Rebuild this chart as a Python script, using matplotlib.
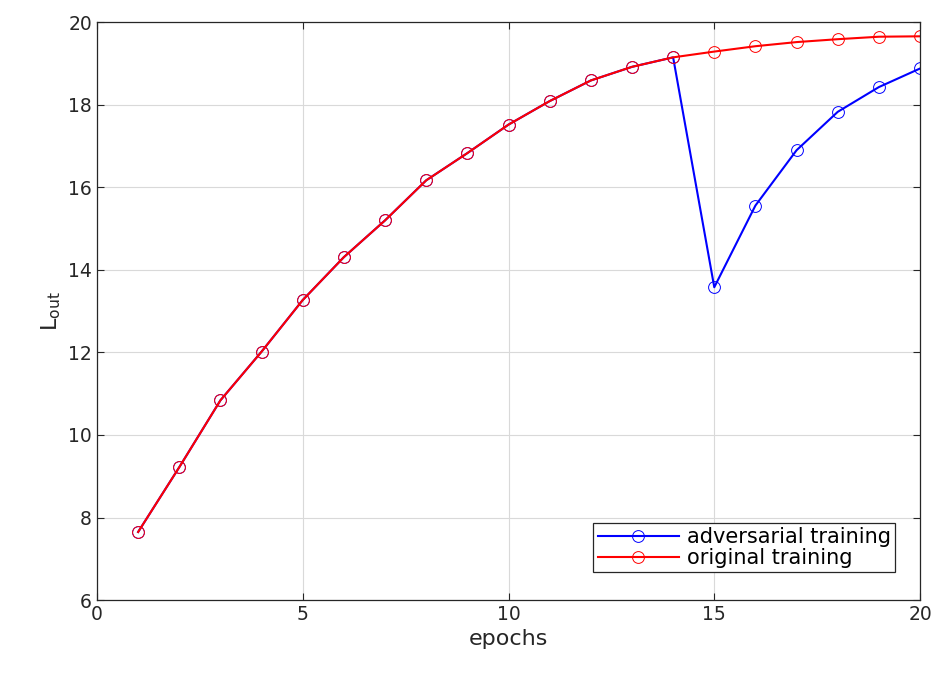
import numpy as np
import matplotlib.pyplot as plt

epochs = np.arange(1, 21)
original = [7.65, 9.22, 10.84, 12.02, 13.27, 14.31, 15.20, 16.17, 16.83, 17.52,
            18.09, 18.59, 18.92, 19.15, 19.29, 19.42, 19.52, 19.59, 19.65, 19.66]
adversarial = original[:14] + [13.58, 15.56, 16.90, 17.83, 18.43, 18.88]

fig = plt.figure(figsize=(9.37, 6.75), dpi=100)
ax = fig.add_axes([0.1035, 0.111, 0.8784, 0.856])

ax.plot(epochs, adversarial, color="#0000ff", lw=1.5, marker="o", ms=8.5,
        mfc="none", mew=0.7, label="adversarial training")
ax.plot(epochs, original, color="#ff0000", lw=1.5, marker="o", ms=8.5,
        mfc="none", mew=0.7, label="original training")

ax.set_xlim(0, 20)
ax.set_ylim(6, 20)
ax.set_xticks([0, 5, 10, 15, 20])
ax.set_yticks(np.arange(6, 21, 2))
ax.grid(True, color="#d9d9d9", lw=0.8)
ax.set_axisbelow(True)
ax.tick_params(direction="in", top=True, right=True, labelsize=13.5,
               colors="#262626", length=5)
for s in ax.spines.values():
    s.set_color("#262626")
    s.set_linewidth(0.9)

ax.set_xlabel("epochs", fontsize=16, color="#262626")
ax.set_ylabel(r"L$_{\mathrm{out}}$", fontsize=16, color="#262626")

leg = ax.legend(loc="lower right", bbox_to_anchor=(0.97, 0.048), fontsize=15,
                fancybox=False, framealpha=1, edgecolor="#262626",
                handlelength=3.9, handletextpad=0.4, borderpad=0.2,
                labelspacing=0.05, borderaxespad=0)
leg.get_frame().set_linewidth(0.9)

plt.savefig("out.png", dpi=100)
